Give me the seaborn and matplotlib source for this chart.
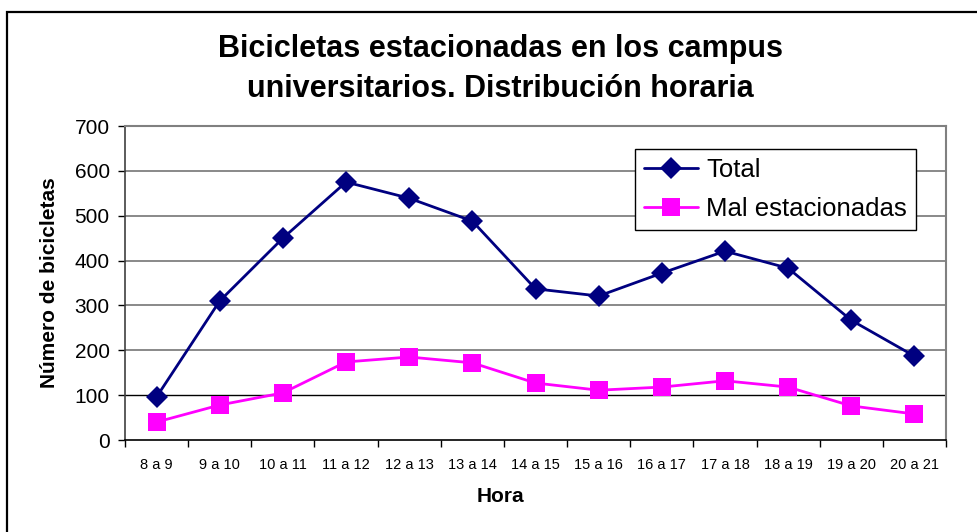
import matplotlib
matplotlib.use("Agg")
import matplotlib.pyplot as plt
from matplotlib.patches import Rectangle
from matplotlib.ticker import FixedLocator, NullFormatter
import numpy as np
import pandas as pd
import seaborn as sns

categories = ["8 a 9", "9 a 10", "10 a 11", "11 a 12", "12 a 13", "13 a 14", "14 a 15",
              "15 a 16", "16 a 17", "17 a 18", "18 a 19", "19 a 20", "20 a 21"]
total = [96, 310, 450, 575, 539, 488, 337, 321, 372, 421, 383, 267, 187]
mal_estacionadas = [40, 78, 105, 174, 185, 172, 127, 111, 118, 132, 118, 76, 58]
series_names = ["Total", "Mal estacionadas"]
y_ticks = [0, 100, 200, 300, 400, 500, 600, 700]
title_lines = ["Bicicletas estacionadas en los campus", "universitarios. Distribución horaria"]

sns.set_theme(style="white")
plt.rcParams['font.family'] = ['Liberation Sans', 'DejaVu Sans']
plt.rcParams['text.color'] = 'black'
plt.rcParams['axes.labelcolor'] = 'black'
plt.rcParams['xtick.color'] = 'black'
plt.rcParams['ytick.color'] = 'black'

fig = plt.figure(figsize=(9.77, 5.32), dpi=100)
ax = fig.add_axes([125/977, 1-440/532, (946-125)/977, (440-126)/532])

pos = np.arange(len(categories))
df = pd.DataFrame({
    "pos": np.concatenate([pos, pos]),
    "value": total + mal_estacionadas,
    "serie": [series_names[0]]*len(pos) + [series_names[1]]*len(pos),
})

# gridlines
for yv in y_ticks[1:]:
    ax.axhline(yv, color="#000000" if yv == 100 else "#808080", lw=1.0 if yv == 100 else 1.3, zorder=0)

sns.lineplot(data=df, x="pos", y="value", hue="serie", style="serie",
             palette={"Total": "#000080", "Mal estacionadas": "#FF00FF"},
             markers={"Total": "D", "Mal estacionadas": "s"},
             dashes=False, sort=False, ax=ax, lw=2,
             markersize=11, markeredgewidth=0, zorder=3)
for line in ax.get_lines():
    if line.get_marker() == "s":
        line.set_markersize(13)

ax.set_xlim(-0.5, len(categories) - 0.5)
ax.set_ylim(0, 700)
ax.set_xlabel("")
ax.set_ylabel("")

ax.set_yticks(y_ticks)
ax.set_yticklabels([str(v) for v in y_ticks], fontsize=15)
ax.tick_params(axis="y", which="major", direction="out", length=5, width=1, color="#000000",
               pad=6, left=True, labelcolor="black")

ax.set_xticks(pos)
ax.set_xticklabels(categories, fontsize=10.5)
ax.tick_params(axis="x", which="major", length=0, pad=13, labelcolor="black")
ax.xaxis.set_minor_locator(FixedLocator(np.arange(-0.5, len(categories), 1.0)))
ax.xaxis.set_minor_formatter(NullFormatter())
ax.tick_params(axis="x", which="minor", direction="out", length=5, width=1, color="#000000", bottom=True)

for side in ["top", "right"]:
    ax.spines[side].set_color("#808080")
    ax.spines[side].set_linewidth(1.5)
ax.spines["left"].set_color("#404040")
ax.spines["left"].set_linewidth(1.2)
ax.spines["bottom"].set_color("#000000")
ax.spines["bottom"].set_linewidth(1.2)

leg = ax.legend(loc="upper right", bbox_to_anchor=(0.963, 0.927), borderaxespad=0,
                fontsize=18.5, frameon=True, fancybox=False, edgecolor="#000000",
                framealpha=1, handlelength=2.1, handletextpad=0.3, borderpad=0.35,
                labelspacing=0.6, title=None)
leg.get_frame().set_linewidth(1.0)
for h in leg.legend_handles:
    h.set_linewidth(2)
for t in leg.get_texts():
    t.set_color("black")

fig.text(500/977, 1-57/532, title_lines[0], ha="center", va="baseline",
         fontsize=22, fontweight="bold", color="black")
fig.text(500/977, 1-97/532, title_lines[1], ha="center", va="baseline",
         fontsize=22, fontweight="bold", color="black")
fig.text(500/977, 1-497/532, "Hora", ha="center", va="center", fontsize=15,
         fontweight="bold", color="black")
fig.text(50/977, 1-283/532, "Número de bicicletas", ha="center", va="center", rotation=90,
         fontsize=15, fontweight="bold", color="black")

fig.patches.append(Rectangle((7/977, -0.05), 1.0, 1 - 12/532 + 0.05, fill=False,
                             edgecolor="#000000", lw=1.6, transform=fig.transFigure))

fig.savefig("out.png", dpi=100, facecolor="white")
